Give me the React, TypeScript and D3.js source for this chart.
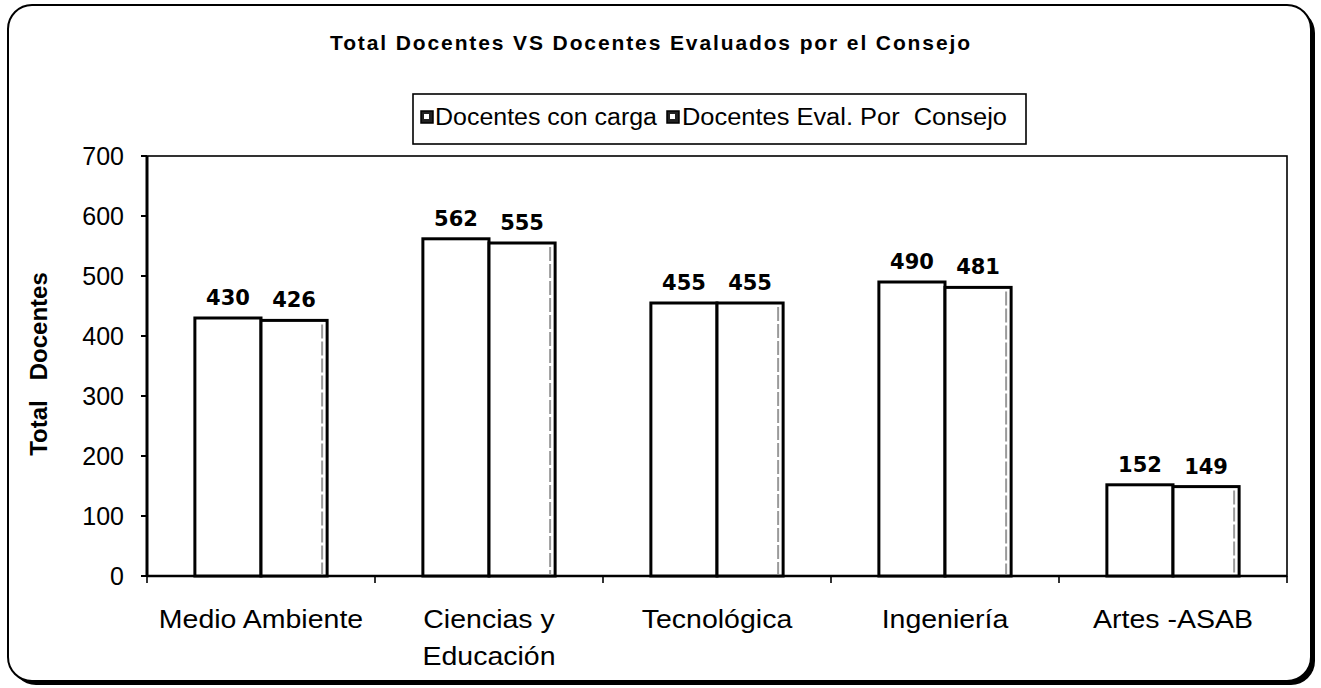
import React, { useEffect, useRef } from "react";
import * as d3 from "d3";

const categories = ["Medio Ambiente", "Ciencias y\nEducación", "Tecnológica", "Ingeniería", "Artes -ASAB"];
const seriesNames = ["Docentes con carga", "Docentes Eval. Por  Consejo"];
const conCarga = [430, 562, 455, 490, 152];
const evaluados = [426, 555, 455, 481, 149];
const yTicks = [0, 100, 200, 300, 400, 500, 600, 700];

const W = 1321;
const H = 688;
const FONT = "'Liberation Sans', Arial, sans-serif";

const App = () => {
  const svgRef = useRef<SVGSVGElement>(null);

  useEffect(() => {
    const svg = d3.select(svgRef.current);
    svg.selectAll("*").remove();

    // outer frame with shadow on right/bottom
    svg.append("rect")
      .attr("x", 12).attr("y", 9).attr("width", 1303).attr("height", 676)
      .attr("rx", 24).attr("fill", "#000");
    svg.append("rect")
      .attr("x", 8).attr("y", 5).attr("width", 1303).attr("height", 676)
      .attr("rx", 24).attr("fill", "#fff").attr("stroke", "#000").attr("stroke-width", 2);

    const left = 147, right = 1287, top = 156, bottom = 576;

    const x = d3.scaleBand<string>()
      .domain(categories)
      .range([left, right])
      .paddingInner(0.42)
      .paddingOuter(0.21);
    const xSub = d3.scaleBand<number>()
      .domain([0, 1])
      .range([0, x.bandwidth()]);
    const y = d3.scaleLinear().domain([0, 700]).range([bottom, top]);

    // plot area border
    svg.append("rect")
      .attr("x", left).attr("y", top)
      .attr("width", right - left).attr("height", bottom - top)
      .attr("fill", "none").attr("stroke", "#000").attr("stroke-width", 1.6);

    // title
    svg.append("text")
      .attr("x", 330).attr("y", 50)
      .attr("textLength", 640).attr("lengthAdjust", "spacing")
      .style("font-family", FONT).style("font-weight", "bold").style("font-size", "21px")
      .text("Total Docentes VS Docentes Evaluados por el Consejo");

    // legend
    svg.append("rect")
      .attr("x", 413).attr("y", 94).attr("width", 613).attr("height", 50)
      .attr("fill", "#fff").attr("stroke", "#000").attr("stroke-width", 1.6);
    const legendItems = [
      { icon: 421, tx: 435, len: 222 },
      { icon: 667, tx: 682, len: 325 },
    ];
    legendItems.forEach((it, i) => {
      svg.append("rect")
        .attr("x", it.icon).attr("y", 111).attr("width", 12).attr("height", 12)
        .attr("fill", "#222").attr("stroke", "#000").attr("stroke-width", 1.5);
      svg.append("rect")
        .attr("x", it.icon + 3).attr("y", 114).attr("width", 5).attr("height", 5)
        .attr("fill", "#fff");
      svg.append("text")
        .attr("x", it.tx).attr("y", 125)
        .attr("textLength", it.len).attr("lengthAdjust", "spacingAndGlyphs")
        .style("font-family", FONT).style("font-size", "23px")
        .style("white-space", "pre")
        .text(seriesNames[i]);
    });

    // y axis
    const yAxis = svg.append("g");
    yAxis.append("line")
      .attr("x1", left).attr("x2", left).attr("y1", top).attr("y2", bottom)
      .attr("stroke", "#000").attr("stroke-width", 3);
    yTicks.forEach((t) => {
      yAxis.append("line")
        .attr("x1", left - 6).attr("x2", left).attr("y1", y(t)).attr("y2", y(t))
        .attr("stroke", "#000").attr("stroke-width", 2);
      yAxis.append("text")
        .attr("x", 124).attr("y", y(t))
        .attr("text-anchor", "end").attr("dominant-baseline", "central")
        .style("font-family", FONT).style("font-size", "25px")
        .text(t);
    });

    svg.append("text")
      .attr("transform", `translate(47, ${(top + bottom) / 2 - 2}) rotate(-90)`)
      .attr("text-anchor", "middle")
      .style("font-family", FONT).style("font-weight", "bold").style("font-size", "24px")
      .style("white-space", "pre")
      .text("Total   Docentes");

    // x axis baseline and ticks
    svg.append("line")
      .attr("x1", left).attr("x2", right).attr("y1", bottom).attr("y2", bottom)
      .attr("stroke", "#000").attr("stroke-width", 2.5);
    const step = x.step();
    d3.range(categories.length + 1).forEach((i) => {
      const xx = left + i * step;
      svg.append("line")
        .attr("x1", xx).attr("x2", xx).attr("y1", bottom).attr("y2", bottom + 7)
        .attr("stroke", "#000").attr("stroke-width", 1.6);
    });

    categories.forEach((c) => {
      const cx = (x(c) as number) + x.bandwidth() / 2;
      c.split("\n").forEach((line, li) => {
        svg.append("text")
          .attr("transform", `translate(${cx}, ${628 + li * 37}) scale(1.14, 1)`)
          .attr("text-anchor", "middle")
          .style("font-family", FONT).style("font-size", "25px")
          .text(line);
      });
    });

    // bars
    const series = [conCarga, evaluados];
    series.forEach((vals, si) => {
      vals.forEach((v, ci) => {
        const bx = (x(categories[ci]) as number) + (xSub(si) as number);
        const bw = xSub.bandwidth();
        svg.append("rect")
          .attr("x", bx).attr("y", y(v))
          .attr("width", bw).attr("height", bottom - y(v))
          .attr("fill", "#fff").attr("stroke", "#000").attr("stroke-width", 3);
        if (si === 1) {
          svg.append("line")
            .attr("x1", bx + bw - 5).attr("x2", bx + bw - 5)
            .attr("y1", y(v) + 4).attr("y2", bottom - 2)
            .attr("stroke", "#9a9a9a").attr("stroke-width", 2)
            .attr("stroke-dasharray", "14 3");
        }
        svg.append("text")
          .attr("x", bx + bw / 2).attr("y", y(v) - 13)
          .attr("text-anchor", "middle")
          .style("font-family", "'DejaVu Sans', Verdana, sans-serif")
          .style("font-weight", "bold").style("font-size", "21px")
          .text(v);
      });
    });
  }, []);

  return (
    <svg
      ref={svgRef}
      width={W}
      height={H}
      style={{ position: "fixed", left: 0, top: 0, background: "#fff" }}
    />
  );
};

export default App;
